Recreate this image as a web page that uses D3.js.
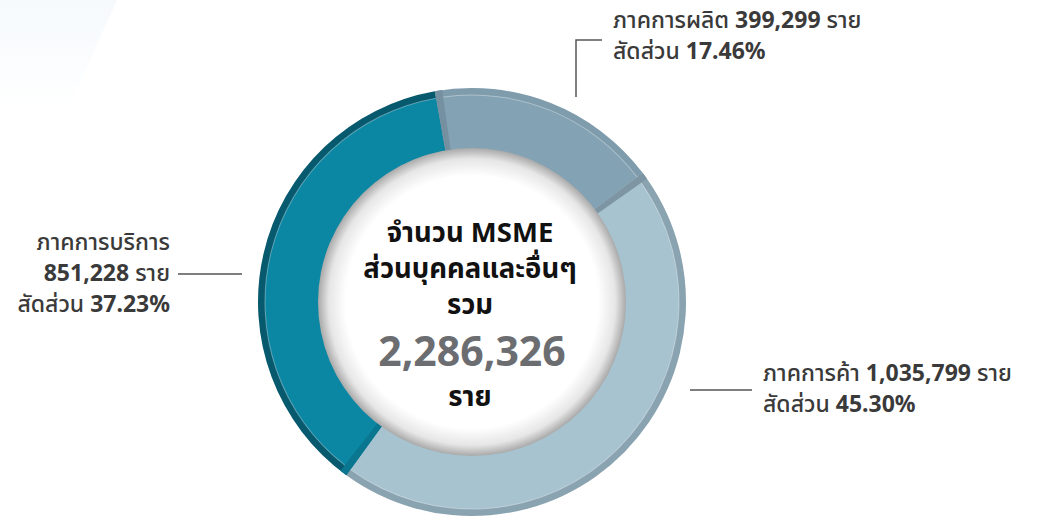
<!DOCTYPE html>
<html><head><meta charset="utf-8">
<script src="https://cdn.jsdelivr.net/npm/d3@7"></script>
<style>
html,body{margin:0;padding:0;background:#fff;}
svg{display:block;font-family:"Noto Sans","Noto Sans Thai",sans-serif;}
</style></head>
<body>
<svg id="c" width="1043" height="520"></svg>
<script>
const categories = ["ภาคการผลิต", "ภาคการค้า", "ภาคการบริการ"];
const counts = [399299, 1035799, 851228];
const shares = [17.46, 45.30, 37.23];
const totalCount = 2286326;
const centerLines = ["จำนวน MSME", "ส่วนบุคคลและอื่นๆ", "รวม"];
const unit = "ราย";
const shareWord = "สัดส่วน";

const faceColors = ["#83a3b4", "#a7c3cf", "#0b87a4"];
const rimColors = ["#7f9cac", "#8aa3b0", "#07596d"];
const edgeColors = ["#7590a0", "#7e96a3", "#0a7690"];

const svg = d3.select("#c");
const cx = 472, cy = 302;
const rOuter = 214, rFace = 207, rInner = 148;

const defs = svg.append("defs");
const bg = defs.append("linearGradient").attr("id","bgG").attr("x1",0).attr("y1",0).attr("x2",0).attr("y2",1);
bg.append("stop").attr("offset",0).attr("stop-color","#f1f7fc");
bg.append("stop").attr("offset",1).attr("stop-color","#ffffff");
svg.append("path").attr("d","M0,0 L117,0 L70,105 L0,110 Z").attr("fill","url(#bgG)").attr("opacity",0.7);

const hole = defs.append("radialGradient").attr("id","holeG");
hole.append("stop").attr("offset","0.82").attr("stop-color","#ffffff");
hole.append("stop").attr("offset","0.93").attr("stop-color","#e6e6e6");
hole.append("stop").attr("offset","1").attr("stop-color","#a9a9a9");

const deg = Math.PI/180;
const pie = d3.pie().sort(null).value(d => d).startAngle(-10*deg).endAngle(350*deg);
const arcs = pie(shares);

const g = svg.append("g").attr("transform",`translate(${cx},${cy})`);
const rimArc = d3.arc().innerRadius(rInner).outerRadius(rOuter);
const faceArc = d3.arc().innerRadius(rInner).outerRadius(rFace);

g.selectAll("path.rim").data(arcs).join("path").attr("class","rim")
  .attr("d", rimArc).attr("fill",(d,i)=>rimColors[i]);
g.selectAll("path.face").data(arcs).join("path").attr("class","face")
  .attr("d", faceArc).attr("fill",(d,i)=>faceColors[i]);
// bevel strips at slice starts
g.selectAll("path.edge").data(arcs).join("path").attr("class","edge")
  .attr("d", d => d3.arc().innerRadius(rInner).outerRadius(rOuter)({startAngle:d.startAngle, endAngle:d.startAngle+2*deg}))
  .attr("fill",(d,i)=>edgeColors[i]);
// faint highlight line on the rim
g.selectAll("path.hl").data(arcs).join("path").attr("class","hl")
  .attr("d", d => d3.arc().innerRadius(rFace-0.5).outerRadius(rFace+0.5)({startAngle:d.startAngle+2*deg, endAngle:d.endAngle}))
  .attr("fill","#ffffff").attr("opacity",0.35);

// inner white disc with shadow
g.append("circle").attr("r", rInner+6).attr("fill","url(#holeG)");

// center texts
const ct = g.append("g").attr("text-anchor","middle");
const cys = [-60, -24, 12];
centerLines.forEach((t,i)=>{
  ct.append("text").attr("x",-2).attr("y",cys[i]).attr("font-size",27.5).attr("font-weight",700).attr("fill","#111").text(t);
});
ct.append("text").attr("x",0).attr("y",64).attr("font-size",41).attr("font-weight",700).attr("fill","#6b6d71")
  .text(d3.format(",")(totalCount));
ct.append("text").attr("x",-2).attr("y",104).attr("font-size",27.5).attr("font-weight",700).attr("fill","#111").text(unit);

// labels
const fmt = d3.format(",");
const txtCol = "#3a3a3a";
const lab = svg.append("g").attr("font-size",23).attr("fill",txtCol);
function line(x,y,parts,anchor){
  const t = lab.append("text").attr("x",x).attr("y",y).attr("text-anchor",anchor||"start");
  parts.forEach(p=>t.append("tspan").attr("font-weight",p[1]?700:500).text(p[0]));
}
// manufacturing (index 0)
line(613,28,[[categories[0]+" ",0],[fmt(counts[0]),1],[" "+unit,0]]);
line(613,59,[[shareWord+" ",0],[shares[0].toFixed(2)+"%",1]]);
// trade (index 1)
line(763,381,[[categories[1]+" ",0],[fmt(counts[1]),1],[" "+unit,0]]);
line(763,412,[[shareWord+" ",0],[shares[1].toFixed(2)+"%",1]]);
// services (index 2)
line(170,250,[[categories[2],0]],"end");
line(170,281,[[fmt(counts[2]),1],[" "+unit,0]],"end");
line(170,312,[[shareWord+" ",0],[shares[2].toFixed(2)+"%",1]],"end");

// leader lines
const lc = svg.append("g").attr("stroke","#555").attr("stroke-width",1.5).attr("fill","none");
lc.append("path").attr("d","M576,97 L576,40 L602,40");
lc.append("path").attr("d","M178,274 L242,274");
lc.append("path").attr("d","M690,390 L752,390");
</script>
</body></html>
